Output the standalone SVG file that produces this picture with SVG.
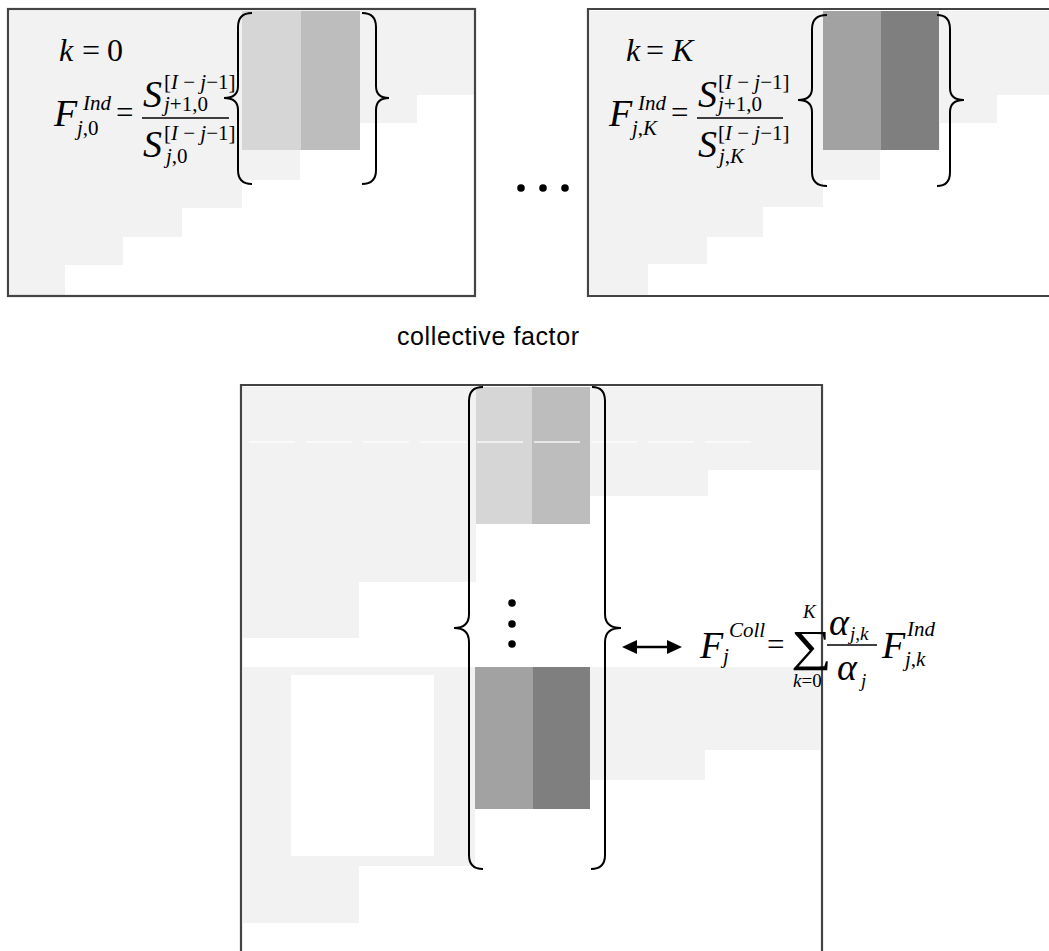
<svg xmlns="http://www.w3.org/2000/svg" width="1049" height="951" viewBox="0 0 1049 951">
  <style>
    .frame { fill: none; stroke: #444; stroke-width: 2.2; }
    .bg { fill: #f2f2f2; }
    .hole { fill: #ffffff; }
    .c1 { fill: #d6d6d6; }
    .c2 { fill: #bdbdbd; }
    .c3 { fill: #a2a2a2; }
    .c4 { fill: #7f7f7f; }
    .brace { fill: none; stroke: #000; stroke-width: 2; }
    .bar { stroke: #000; stroke-width: 1.4; }
    .m { font-family: "Liberation Serif", "Times New Roman", serif; fill: #000; }
    .i { font-style: italic; }
    .big { font-size: 38px; }
    .mid { font-size: 32px; }
    .eq { font-size: 31px; }
    .sm { font-size: 21px; }
    .xs { font-size: 19px; }
    .lbl { font-family: "Liberation Sans", Arial, sans-serif; font-size: 25px; fill: #000; }
  </style>
  <defs>
    <marker id="head" viewBox="0 0 15 14" markerWidth="15" markerHeight="14" refX="0" refY="7" markerUnits="userSpaceOnUse" orient="auto-start-reverse">
      <path d="M0,0 L15,7 L0,14 z" fill="#000"/>
    </marker>
  </defs>
  <rect width="1049" height="951" fill="#fff"/>

  <!-- individual factor, k = 0 -->
  <g id="panel-k0">
    <polygon class="bg" points="10,11 474,11 474,95 417,95 417,123 360,123 360,150 300,150 300,180 242,180 242,208 182,208 182,237 123,237 123,265 65,265 65,295 10,295"/>
    <rect class="c1" x="242" y="11" width="59" height="139"/>
    <rect class="c2" x="301" y="11" width="59" height="139"/>
    <rect class="frame" x="8" y="9" width="467" height="287"/>
    <path class="brace" d="M252,13 Q238,13 238,27 L238,86 Q238,98 224,98 Q238,98 238,110 L238,170 Q238,184 252,184"/>
    <path class="brace" d="M362,13 Q376,13 376,27 L376,86 Q376,98 389,98 Q376,98 376,110 L376,170 Q376,184 362,184"/>
    <text class="m mid" y="61"><tspan class="i" x="59">k</tspan><tspan x="82">=</tspan><tspan x="107">0</tspan></text>
    <text class="m big i" x="54" y="126">F</text>
    <text class="m sm i" x="83" y="110">Ind</text>
    <text class="m sm" x="77" y="135"><tspan class="i">j</tspan>,0</text>
    <text class="m eq" x="116" y="123">=</text>
    <line class="bar" x1="142" y1="118" x2="229" y2="118"/>
    <text class="m big i" x="143" y="107">S</text>
    <text class="m sm" x="164" y="89">[<tspan class="i">I</tspan> − <tspan class="i">j</tspan>−1]</text>
    <text class="m sm" x="164" y="111"><tspan class="i">j</tspan>+1,0</text>
    <text class="m big i" x="143" y="157">S</text>
    <text class="m sm" x="164" y="140">[<tspan class="i">I</tspan> − <tspan class="i">j</tspan>−1]</text>
    <text class="m sm" x="166" y="163"><tspan class="i">j</tspan>,0</text>
  </g>

  <!-- ellipsis between panels -->
  <g id="ellipsis">
    <circle cx="521" cy="188" r="3.8"/>
    <circle cx="543" cy="188" r="3.8"/>
    <circle cx="565" cy="188" r="3.8"/>
  </g>

  <!-- individual factor, k = K -->
  <g id="panel-kK">
    <polygon class="bg" points="590,11 1049,11 1049,95 997,95 997,123 940,123 940,150 880,150 880,180 823,180 823,207 763,207 763,237 707,237 707,264 648,264 648,295 590,295"/>
    <rect class="c3" x="823" y="11" width="58" height="139"/>
    <rect class="c4" x="881" y="11" width="58" height="139"/>
    <path class="frame" d="M1050,9 L588,9 L588,296 L1050,296"/>
    <path class="brace" d="M827,15 Q812,15 812,29 L812,88 Q812,100 798,100 Q812,100 812,112 L812,172 Q812,186 827,186"/>
    <path class="brace" d="M937,15 Q950,15 950,29 L950,88 Q950,100 964,100 Q950,100 950,112 L950,172 Q950,186 937,186"/>
    <text class="m mid" y="61"><tspan class="i" x="626">k</tspan><tspan x="646">=</tspan><tspan class="i" x="672">K</tspan></text>
    <text class="m big i" x="609" y="126">F</text>
    <text class="m sm i" x="638" y="110">Ind</text>
    <text class="m sm" x="632" y="135"><tspan class="i">j</tspan>,<tspan class="i">K</tspan></text>
    <text class="m eq" x="671" y="123">=</text>
    <line class="bar" x1="697" y1="118" x2="783" y2="118"/>
    <text class="m big i" x="698" y="107">S</text>
    <text class="m sm" x="718" y="89">[<tspan class="i">I</tspan> − <tspan class="i">j</tspan>−1]</text>
    <text class="m sm" x="718" y="111"><tspan class="i">j</tspan>+1,0</text>
    <text class="m big i" x="698" y="157">S</text>
    <text class="m sm" x="718" y="140">[<tspan class="i">I</tspan> − <tspan class="i">j</tspan>−1]</text>
    <text class="m sm" x="719" y="163"><tspan class="i">j</tspan>,<tspan class="i">K</tspan></text>
  </g>

  <text id="title" class="lbl" x="397" y="345" textLength="182" lengthAdjust="spacing">collective factor</text>

  <!-- collective factor panel -->
  <g id="panel-collective">
    <polygon class="bg" points="243,387 820,387 820,470 708,470 708,496 590,496 590,524 476,524 476,582 359,582 359,638 243,638"/>
    <polygon class="bg" points="243,667 820,667 820,750 705,750 705,780 590,780 590,809 475,809 475,866 359,866 359,923 243,923"/>
    <rect class="hole" x="291" y="675" width="143" height="181"/>
    <rect class="c1" x="476" y="387" width="56" height="137"/>
    <rect class="c2" x="532" y="387" width="58" height="137"/>
    <rect class="c3" x="475" y="667" width="58" height="142"/>
    <rect class="c4" x="533" y="667" width="57" height="142"/>
    <line x1="249" y1="442" x2="762" y2="442" stroke="#fff" stroke-width="1.6" stroke-dasharray="46 11" opacity="0.85"/>
    <path class="frame" d="M241,960 L241,385 L822,385 L822,960"/>
    <path class="brace" d="M483,387 Q469,387 469,401 L469,614 Q469,628 454,628 Q469,628 469,642 L469,855 Q469,869 483,869"/>
    <path class="brace" d="M592,387 Q605,387 605,401 L605,614 Q605,628 621,628 Q605,628 605,642 L605,855 Q605,869 591,869"/>
    <circle cx="512" cy="603" r="3.8"/>
    <circle cx="512" cy="624" r="3.8"/>
    <circle cx="512" cy="644" r="3.8"/>
  </g>

  <!-- connector between the column and the formula -->
  <g id="connectors">
    <line x1="637" y1="647" x2="667" y2="647" stroke="#000" stroke-width="2.5" marker-start="url(#head)" marker-end="url(#head)"/>
  </g>

  <!-- collective factor formula -->
  <g id="formula-collective">
    <text class="m big i" x="700" y="658">F</text>
    <text class="m sm i" x="729" y="637">Coll</text>
    <text class="m sm i" x="723" y="663">j</text>
    <text class="m eq" x="767" y="655">=</text>
    <text class="m" transform="translate(791,661) scale(1.3,1)" font-size="44">∑</text>
    <text class="m xs i" x="803" y="618">K</text>
    <text class="m xs" x="793" y="687"><tspan class="i">k</tspan>=0</text>
    <line class="bar" x1="827" y1="645" x2="877" y2="645"/>
    <text class="m big i" x="829" y="635">α</text>
    <text class="m xs" x="850" y="640"><tspan class="i">j</tspan>,<tspan class="i">k</tspan></text>
    <text class="m big i" x="837" y="680">α</text>
    <text class="m xs i" x="861" y="687">j</text>
    <text class="m big i" x="882" y="658">F</text>
    <text class="m sm i" x="907" y="636">Ind</text>
    <text class="m sm" x="905" y="666"><tspan class="i">j</tspan>,<tspan class="i">k</tspan></text>
  </g>
</svg>
